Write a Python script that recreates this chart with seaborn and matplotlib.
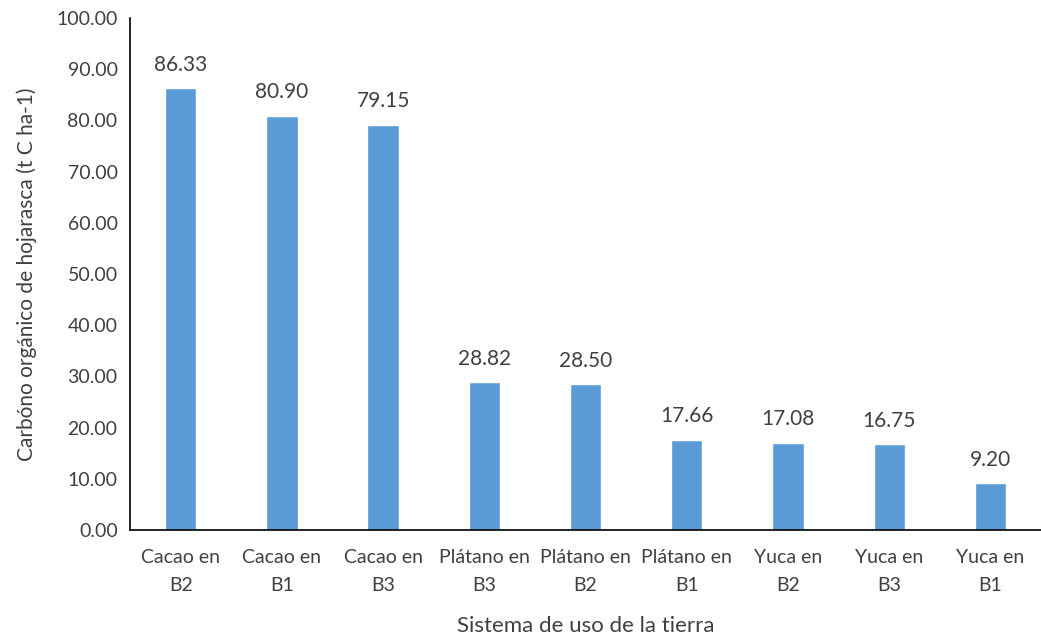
import matplotlib
matplotlib.use("Agg")
import matplotlib.pyplot as plt
import seaborn as sns
import pandas as pd
from matplotlib.ticker import FormatStrFormatter

categories = ["Cacao en\nB2", "Cacao en\nB1", "Cacao en\nB3", "Plátano en\nB3", "Plátano en\nB2",
              "Plátano en\nB1", "Yuca en\nB2", "Yuca en\nB3", "Yuca en\nB1"]
values = [86.33, 80.90, 79.15, 28.82, 28.50, 17.66, 17.08, 16.75, 9.20]

sns.set_theme(style="white")
plt.rcParams['font.family'] = ['Lato', 'DejaVu Sans']

df = pd.DataFrame({"cat": categories, "val": values})

fig = plt.figure(figsize=(10.41, 6.39), dpi=100)
ax = fig.add_axes([0.125, 0.1706, 0.875, 0.8012])
sns.barplot(data=df, x="cat", y="val", color="#5B9BD5", saturation=1, width=0.31, ax=ax)

for p, v in zip(ax.patches, values):
    ax.text(p.get_x() + p.get_width() / 2, v + 2.6, f"{v:.2f}", ha="center", va="bottom",
            fontsize=15, color="#404040")

ax.set_ylim(0, 100)
ax.set_yticks(range(0, 101, 10))
ax.yaxis.set_major_formatter(FormatStrFormatter("%.2f"))
ax.set_xlim(-0.5, 8.5)
ax.tick_params(axis="y", direction="out", length=5, width=1, color="black", labelsize=14, labelcolor="#404040", pad=4)
ax.tick_params(axis="x", length=0, labelsize=14, labelcolor="#404040", pad=14)
for lbl in ax.get_xticklabels():
    lbl.set_linespacing(1.75)
for s in ["top", "right"]:
    ax.spines[s].set_visible(False)
for s in ["left", "bottom"]:
    ax.spines[s].set_color("black")
    ax.spines[s].set_linewidth(1.2)
ax.set_xlabel("Sistema de uso de la tierra", fontsize=16, color="#404040", labelpad=16)
ax.set_ylabel("Carbóno orgánico de hojarasca (t C ha-1)", fontsize=15, color="#404040", labelpad=14)

fig.savefig("out.png", dpi=100)
